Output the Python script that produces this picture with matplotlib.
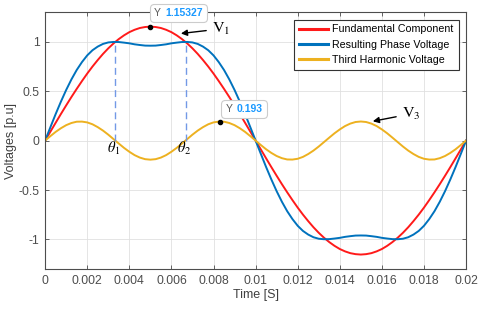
import numpy as np
import matplotlib
matplotlib.use("Agg")
import matplotlib.pyplot as plt
from matplotlib.offsetbox import TextArea, HPacker, AnnotationBbox

plt.rcParams['font.family'] = ['Liberation Sans', 'DejaVu Sans']
plt.rcParams['mathtext.fontset'] = 'stix'

# time axis, one period of 50 Hz sampled every 0.25 ms
t = np.linspace(0, 0.02, 81)

fundamental = [
    0, 0.090, 0.180, 0.269, 0.356, 0.441, 0.523, 0.602, 0.678, 0.749,
    0.815, 0.877, 0.933, 0.983, 1.027, 1.065, 1.097, 1.121, 1.139, 1.149,
    1.153, 1.149, 1.139, 1.121, 1.097, 1.065, 1.027, 0.983, 0.933, 0.877,
    0.815, 0.749, 0.678, 0.602, 0.523, 0.441, 0.356, 0.269, 0.180, 0.090,
    0, -0.090, -0.180, -0.269, -0.356, -0.441, -0.523, -0.602, -0.678, -0.749,
    -0.815, -0.877, -0.933, -0.983, -1.027, -1.065, -1.097, -1.121, -1.139, -1.149,
    -1.153, -1.149, -1.139, -1.121, -1.097, -1.065, -1.027, -0.983, -0.933, -0.877,
    -0.815, -0.749, -0.678, -0.602, -0.523, -0.441, -0.356, -0.269, -0.180, -0.090,
    0]

third = [
    0, 0.045, 0.088, 0.125, 0.156, 0.178, 0.191, 0.192, 0.184, 0.165,
    0.136, 0.101, 0.060, 0.015, -0.030, -0.074, -0.113, -0.147, -0.172, -0.188,
    -0.193, -0.188, -0.172, -0.147, -0.113, -0.074, -0.030, 0.015, 0.060, 0.101,
    0.136, 0.165, 0.184, 0.192, 0.191, 0.178, 0.156, 0.125, 0.088, 0.045,
    0, -0.045, -0.088, -0.125, -0.156, -0.178, -0.191, -0.192, -0.184, -0.165,
    -0.136, -0.101, -0.060, -0.015, 0.030, 0.074, 0.113, 0.147, 0.172, 0.188,
    0.193, 0.188, 0.172, 0.147, 0.113, 0.074, 0.030, -0.015, -0.060, -0.101,
    -0.136, -0.165, -0.184, -0.192, -0.191, -0.178, -0.156, -0.125, -0.088, -0.045,
    0]

resulting = [
    0, 0.135, 0.268, 0.394, 0.512, 0.619, 0.714, 0.794, 0.862, 0.914,
    0.951, 0.978, 0.993, 0.998, 0.997, 0.991, 0.984, 0.974, 0.967, 0.961,
    0.960, 0.961, 0.967, 0.974, 0.984, 0.991, 0.997, 0.998, 0.993, 0.978,
    0.951, 0.914, 0.862, 0.794, 0.714, 0.619, 0.512, 0.394, 0.268, 0.135,
    0, -0.135, -0.268, -0.394, -0.512, -0.619, -0.714, -0.794, -0.862, -0.914,
    -0.951, -0.978, -0.993, -0.998, -0.997, -0.991, -0.984, -0.974, -0.967, -0.961,
    -0.960, -0.961, -0.967, -0.974, -0.984, -0.991, -0.997, -0.998, -0.993, -0.978,
    -0.951, -0.914, -0.862, -0.794, -0.714, -0.619, -0.512, -0.394, -0.268, -0.135,
    0]

theta_x = [0.00333, 0.00667]
theta_labels = [r'$\theta_1$', r'$\theta_2$']
tip_points = [(0.005, 1.15327), (0.00833, 0.193)]
tip_offsets = [(20, 10), (17, 9)]

fig = plt.figure(figsize=(4.8, 3.1), dpi=100)
ax = fig.add_axes([0.094, 0.132, 0.877, 0.829])

ax.plot(t, fundamental, color=(1, 0.1, 0.1), lw=1.4, label='Fundamental Component')
ax.plot(t, resulting, color=(0.0, 0.447, 0.741), lw=1.4, label='Resulting Phase Voltage')
ax.plot(t, third, color=(0.929, 0.694, 0.125), lw=1.4, label='Third Harmonic Voltage')

for x, lab in zip(theta_x, theta_labels):
    ax.plot([x, x], [0, 1], ls=(0, (5, 3)), color=(0.45, 0.6, 0.9), lw=1)
    ax.text(x - 0.00008, -0.08, lab, ha='center', va='center', fontsize=10.5)

ax.annotate(r'$\mathrm{V}_1$', xy=(0.00632, 1.08), xytext=(0.00835, 1.13),
            ha='center', va='center', fontsize=11.5,
            arrowprops=dict(arrowstyle='-|>', color='black', lw=1, mutation_scale=9))
ax.annotate(r'$\mathrm{V}_3$', xy=(0.01544, 0.19), xytext=(0.01738, 0.27),
            ha='center', va='center', fontsize=11.5,
            arrowprops=dict(arrowstyle='-|>', color='black', lw=1, mutation_scale=9))

for (px, py), off in zip(tip_points, tip_offsets):
    ax.plot(px, py, 'o', color='black', ms=3, zorder=5)
    label = HPacker(children=[
        TextArea('Y', textprops=dict(color='0.35', size=7.5)),
        TextArea(f'{py:g}', textprops=dict(color=(0.1, 0.6, 1.0), size=7.5, weight='bold'))],
        sep=3, align='baseline')
    ab = AnnotationBbox(label, (px, py), xybox=off, boxcoords='offset points',
                        frameon=True, pad=0.35,
                        bboxprops=dict(boxstyle='round,pad=0.3', fc='white', ec='0.8', lw=0.8))
    ax.add_artist(ab)

ax.set_xlim(0, 0.02)
ax.set_ylim(-1.3, 1.3)
ax.set_xticks(np.arange(0, 0.0201, 0.002))
ax.set_xticklabels(['0', '0.002', '0.004', '0.006', '0.008', '0.01',
                    '0.012', '0.014', '0.016', '0.018', '0.02'])
ax.set_yticks([-1, -0.5, 0, 0.5, 1])
ax.set_yticklabels(['-1', '-0.5', '0', '0.5', '1'])
ax.tick_params(direction='in', top=True, right=True, labelsize=8.8,
               colors='0.3', length=3, width=0.6, pad=4)
for s in ax.spines.values():
    s.set_color('0.3')
    s.set_linewidth(0.8)
ax.grid(True, color='0.88', lw=0.6)
ax.set_axisbelow(True)
ax.set_xlabel('Time [S]', fontsize=9, color='0.25', labelpad=2)
ax.set_ylabel('Voltages [p.u]', fontsize=9, color='0.25', labelpad=1)

leg = ax.legend(loc='upper right', fontsize=7.7, fancybox=False, framealpha=1,
                edgecolor='0.2', handlelength=2.7, handletextpad=0.4,
                borderaxespad=0.7, labelspacing=0.5, borderpad=0.45)
leg.get_frame().set_linewidth(0.8)
for line in leg.get_lines():
    line.set_linewidth(2.2)

fig.savefig('out.png', dpi=100)
